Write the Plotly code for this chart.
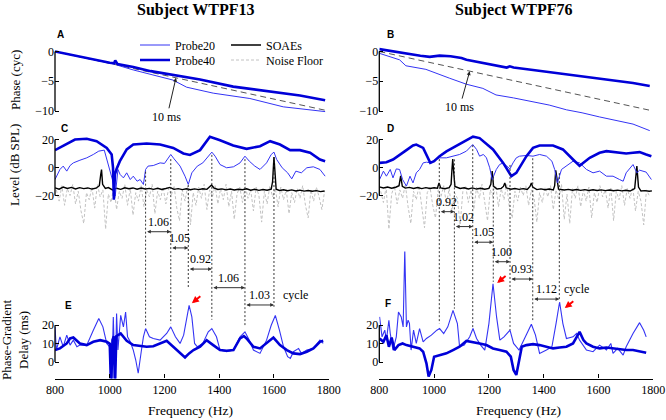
import plotly.graph_objects as go

W, H = 666, 420
SERIF = "Liberation Serif, Times New Roman, Times, serif"
SANS = "Liberation Sans, Arial, sans-serif"
THIN = "#3434f4"
THICK = "#0000d8"
NOISE_C = "#c2c2c2"

FREQ_TICKS = [800, 1000, 1200, 1400, 1600, 1800]
PHASE_TICKS = [0, -5, -10]
LEVEL_TICKS = [20, 0, -20]
DELAY_TICKS = [20, 10, 0]

# 10 ms reference slope (cycles)
REF10_F = [800, 1790]
REF10_PH = [0, -9.9]

# ---------------- Subject WTPF13 ----------------
A_P20 = [(800, 0), (900, -1.0), (1000, -1.9), (1015, -2.1), (1020, -1.5), (1028, -2.3), (1086, -3.1),
         (1147, -3.8), (1231, -4.8), (1281, -6.0), (1378, -7.0), (1512, -7.9), (1634, -9.3), (1787, -10.1)]
A_P40 = [(800, 0), (900, -1.0), (1000, -1.9), (1016, -2.0), (1020, -1.5), (1028, -2.1), (1086, -2.6),
         (1150, -3.3), (1231, -3.9), (1330, -4.7), (1451, -5.9), (1573, -6.6), (1695, -7.4), (1787, -8.2)]

C_P40 = [(800, 12.4), (830, 15.7), (873, 20), (916, 20.5), (952, 18.8), (989, 14), (1007, 9.3), (1012, 0),
         (1015, -23), (1019, -5), (1025, -1), (1037, 4.5), (1062, 12.9), (1086, 16.4), (1135, 17.1),
         (1184, 16.4), (1232, 14), (1269, 10), (1293, 9), (1330, 12.4), (1366, 21.9), (1403, 19.5),
         (1451, 15.7), (1500, 13.3), (1549, 15.2), (1586, 18.8), (1622, 16.4), (1659, 12.4), (1695, 12.4),
         (1732, 10.5), (1768, 5.7), (1787, 4.5)]
C_P20 = [(800, -8.6), (818, -1.4), (830, 1), (843, -2.6), (855, 1.4), (867, 3.3), (891, 5.2), (916, 6.9),
         (940, 9.3), (960, 11.7), (980, 12.4), (989, 5.7), (1000, -1.4), (1013, -11), (1020, -20.5),
         (1030, -1.4), (1038, -5), (1050, -7.4), (1062, -3.8), (1075, -8.6), (1086, -6.2), (1100, -9.8),
         (1111, -8.6), (1123, -12.1), (1131, -1.4), (1140, 1), (1159, 1.4), (1184, 3.3), (1200, 2.9),
         (1215, 6.9), (1223, 9.3), (1235, 6.2), (1257, 1), (1275, -6.2), (1287, -12.1), (1300, -3.8),
         (1320, 1), (1340, 3.3), (1360, 8.1), (1373, 11), (1385, 8.1), (1403, 2.1), (1427, -0.2),
         (1452, 0.5), (1476, 3.3), (1494, 8.1), (1510, 4.5), (1530, 1), (1549, -1.4), (1573, 3.3),
         (1590, 9.3), (1600, 11), (1610, 5.7), (1630, -0.2), (1650, -3.8), (1665, -8.1), (1680, -2.6),
         (1700, -3.8), (1720, -0.2), (1744, 0.5), (1768, -1.4), (1787, -6.2)]
C_SOAE = [(800, -14.5), (815, -15.5), (830, -14), (845, -15), (860, -14.2), (875, -15.3), (890, -14.4),
          (905, -15.1), (920, -14.6), (935, -15.4), (950, -14.8), (962, -13), (967, -5), (970, -1.5),
          (974, -12), (984, -15), (995, -14.3), (1010, -16), (1025, -14.8), (1040, -15.6), (1055, -14.5),
          (1070, -15.2), (1085, -14.6), (1100, -15.5), (1115, -14.7), (1130, -15.3), (1145, -14.9),
          (1160, -15.6), (1175, -14.8), (1190, -15.7), (1205, -15), (1220, -14.2), (1235, -15.6),
          (1250, -15.1), (1265, -15.8), (1280, -15.2), (1295, -15.9), (1310, -15.3), (1325, -15.8),
          (1340, -15.2), (1355, -15.6), (1365, -14), (1372, -12.5), (1380, -14.5), (1395, -15.7),
          (1410, -15.3), (1425, -16), (1440, -15.4), (1455, -16.1), (1470, -15.5), (1485, -15.9),
          (1500, -15.2), (1515, -16.2), (1530, -15.6), (1545, -16.3), (1560, -15.7), (1575, -16.2),
          (1590, -15.5), (1595, -10), (1600, 7.5), (1603, -3), (1608, -15.5), (1620, -16.4), (1635, -15.9),
          (1650, -16.6), (1665, -16), (1680, -16.8), (1695, -16.2), (1710, -16.9), (1725, -16.4),
          (1740, -17), (1755, -16.5), (1770, -17.2), (1785, -16.8)]
NOISE_F = list(range(805, 1790, 10))
C_NOISE = [-16, -24, -13, -27, -15, -20, -12, -26, -17, -31,
           -40, -18, -23, -14, -29, -12, -21, -16, -44, -19,
           -25, -13, -30, -17, -22, -12, -27, -15, -34, -18,
           -24, -13, -28, -16, -21, -12, -33, -17, -23, -14,
           -26, -15, -20, -13, -29, -38, -16, -24, -13, -41,
           -18, -27, -14, -22, -12, -30, -16, -21, -13, -26,
           -15, -23, -12, -28, -17, -37, -19, -14, -25, -13,
           -22, -16, -31, -14, -20, -39, -17, -26, -13, -21,
           -15, -28, -14, -23, -16, -33, -18, -25, -15, -22,
           -13, -27, -36, -16, -24, -14, -21, -30, -17]

E_P40 = [(800, 6.5), (818, 7.4), (843, 10.1), (855, 12.8), (867, 13.3), (891, 10.1), (916, 9.2), (940, 11),
         (965, 11.9), (989, 11), (1000, 10), (1005, -15), (1010, 12), (1015, 14), (1019, -15), (1024, 14),
         (1040, 15.5), (1062, 11.5), (1086, 9.2), (1111, 8.6), (1135, 8.3), (1159, 8.6), (1184, 10.1),
         (1208, 11.5), (1232, 8.3), (1257, 4.7), (1275, 2.5), (1290, 4.7), (1306, 6.5), (1330, 8.3),
         (1354, 11.9), (1378, 9.2), (1403, 6.5), (1427, 6.1), (1452, 6.5), (1476, 12.8), (1490, 14.1),
         (1500, 12.8), (1525, 8.3), (1549, 7.4), (1573, 10.1), (1598, 13.3), (1622, 9.2), (1647, 6.5),
         (1671, 4.7), (1695, 4.3), (1720, 5.6), (1744, 7.4), (1768, 11), (1780, 11.5)]
E_P20 = [(800, 19.1), (805, 6.5), (818, 13.7), (830, 8.3), (843, 14.6), (855, 9.2), (867, 11.9), (880, 8.3),
         (891, 9.2), (916, 9.2), (940, 17.3), (960, 23.6), (975, 19.1), (989, 10.1), (1000, 8.3),
         (1007, -9.7), (1013, 24.5), (1020, -11.5), (1025, 26.3), (1030, 6.5), (1040, 25.4), (1050, 19.1),
         (1058, 27.2), (1065, 13.7), (1075, 11), (1086, 6.5), (1095, 1.1), (1104, -6.1), (1115, 5.6),
         (1123, 13.7), (1131, 18.2), (1145, 13.7), (1159, 12.8), (1184, 11.9), (1208, 15.5), (1223, 19.1),
         (1240, 13.7), (1257, 10.1), (1270, 14.6), (1281, 24.5), (1290, 30.8), (1300, 24.5), (1310, 10.1),
         (1320, 8.3), (1340, 10.1), (1360, 16.4), (1373, 18.2), (1390, 13.7), (1403, 6.5), (1427, 5.6),
         (1452, 6.5), (1476, 13.7), (1494, 16.4), (1510, 11.9), (1525, 6.5), (1549, 4.7), (1573, 11.9),
         (1590, 20), (1605, 25.3), (1620, 17.3), (1635, 8.3), (1650, 2.9), (1660, 2), (1671, 5.6),
         (1690, 7.4), (1700, 4.7), (1720, 6.5), (1744, 7.4), (1768, 11.9), (1780, 10.1)]

L_LINES_F = [1131, 1223, 1287, 1373, 1494, 1600]
L_LINES_TOP_DB = [-3, 6, -12.5, 9, 6, 7.5]
L_LINES_BOT_MS = [20, 21, 40, 23, 20, 30]
L_ARROW_MS = [70.8, 62, 50.5, 40.4, 31]
L_RATIO = ["1.06", "1.05", "0.92", "1.06", "1.03"]
L_RED = [(1300, 32)]
L_10MS_HEAD = (1242, -4.42)

# ---------------- Subject WTPF76 ----------------
B_P20 = [(800, -0.3), (874, -1.4), (897, -2.4), (970, -3.0), (1057, -4.5), (1118, -5.5), (1178, -6.2),
         (1226, -7.3), (1290, -7.8), (1361, -8.4), (1420, -9.0), (1483, -9.8), (1540, -10.3), (1604, -11.0),
         (1660, -11.6), (1726, -12.2), (1787, -13.3)]
B_P40 = [(800, 0.4), (874, -0.2), (950, -0.7), (984, -0.9), (1020, -0.7), (1060, -0.8), (1100, -1.1),
         (1118, -1.4), (1215, -2.3), (1265, -2.7), (1276, -2.5), (1290, -2.7), (1361, -3.1), (1483, -3.8),
         (1604, -4.6), (1726, -5.3), (1787, -5.8)]

D_P40 = [(801, 3.3), (826, 3.8), (850, 5.7), (874, 9.3), (899, 12.4), (923, 15.7), (935, 16.4), (960, 14),
         (975, 8), (986, 3.3), (1000, 4.5), (1020, 8.1), (1045, 11.5), (1069, 14), (1093, 17.1), (1118, 19.5),
         (1142, 22), (1166, 21), (1191, 17.1), (1215, 12.9), (1252, 3.3), (1282, -6.2), (1300, -3.8),
         (1337, 8.1), (1361, 14), (1385, 15.7), (1434, 15.7), (1470, 12.9), (1507, 5.7), (1531, 1.2),
         (1568, 6.9), (1604, 10.5), (1629, 11.7), (1653, 11), (1677, 10.5), (1701, 10), (1726, 10.5),
         (1750, 11), (1774, 9.3), (1793, 8.1)]
D_P20 = [(801, -8.6), (815, -2.6), (826, -6.2), (840, -1.4), (850, -7.4), (862, -1), (874, -1.4), (885, -8.6),
         (899, -13.3), (912, -6.2), (923, -11), (935, -3.8), (947, -1.4), (960, 3.3), (972, 3.8), (990, 3.3),
         (1000, 5.2), (1020, 6.9), (1045, 6.9), (1069, 8.1), (1093, 9.3), (1118, 11.7), (1130, 14),
         (1141, 16.4), (1155, 12.9), (1166, 8.1), (1180, 9.3), (1191, 6.9), (1203, -0.2), (1212, -8.6),
         (1227, -1.4), (1239, 2.1), (1252, 3.3), (1264, 1), (1277, -1), (1288, 3.3), (1300, 6.9),
         (1312, 8.1), (1337, 8.6), (1361, 8.1), (1385, 9.3), (1410, 8.1), (1430, 4.5), (1440, -1.4),
         (1450, -11), (1465, -1.4), (1483, 1), (1507, 4.5), (1531, 3.3), (1556, -1.4), (1580, -3.8),
         (1604, -2.6), (1629, -6.2), (1653, -6.2), (1677, -8.6), (1690, -9.8), (1701, -3.8), (1715, -0.2),
         (1726, 2.1), (1740, -3.8), (1750, -1.9), (1774, -3.3), (1793, -8.6)]
D_SOAE = [(800, -13.8), (815, -14.6), (830, -13.9), (845, -14.8), (860, -14.1), (872, -13), (878, -6),
          (884, -13.5), (895, -14.7), (910, -14.2), (925, -15), (940, -14.3), (955, -15.1), (970, -14.4),
          (985, -15), (1000, -14.5), (1012, -14.8), (1018, -11), (1024, -14.6), (1040, -15.2), (1055, -14.4),
          (1062, -12), (1065, -2), (1068, 6), (1071, -2), (1076, -13.5), (1095, -15), (1110, -14.5),
          (1125, -15.3), (1140, -14.6), (1155, -15.4), (1170, -14.8), (1185, -15.5), (1200, -14.9),
          (1207, -12), (1212, -2.5), (1217, -13.5), (1230, -15.4), (1245, -14.9), (1253, -13.5),
          (1258, -11), (1263, -14.5), (1280, -15.5), (1295, -15), (1310, -15.6), (1325, -15.1),
          (1340, -15.7), (1350, -13.5), (1355, -11), (1360, -14), (1375, -15.8), (1390, -15.3),
          (1405, -15.9), (1420, -15.4), (1435, -16), (1440, -13), (1444, -2), (1448, -8), (1454, -15.5),
          (1475, -16.1), (1490, -15.6), (1505, -16.2), (1520, -15.7), (1535, -16.3), (1550, -15.8),
          (1565, -16.4), (1580, -15.9), (1595, -16.4), (1610, -16), (1625, -16.5), (1640, -16.1),
          (1655, -16.6), (1670, -16.2), (1685, -16.7), (1700, -16.3), (1715, -16.8), (1732, -15),
          (1740, 1), (1746, -14), (1755, -16.8), (1770, -16.5), (1785, -17), (1795, -16.7)]
D_NOISE = [-17, -25, -14, -44, -19, -13, -26, -16, -22, -12,
           -28, -40, -17, -23, -13, -29, -43, -18, -14, -27,
           -36, -16, -21, -13, -26, -15, -31, -18, -22, -41,
           -17, -13, -25, -16, -30, -14, -22, -12, -27, -38,
           -16, -21, -13, -28, -15, -23, -12, -29, -36, -17,
           -24, -14, -20, -13, -27, -16, -22, -39, -18, -25,
           -14, -21, -13, -30, -16, -23, -12, -37, -19, -40,
           -15, -22, -13, -28, -16, -24, -14, -36, -18, -25,
           -13, -21, -16, -29, -14, -38, -17, -23, -13, -27,
           -15, -22, -14, -31, -17, -24, -41, -16, -20]

F_P40 = [(801, 12.8), (815, 11), (826, 14.6), (835, 8.3), (845, 13.3), (855, 6.5), (870, 9.2), (885, 10.1),
         (899, 9.2), (923, 8.3), (947, 7.4), (960, 5.6), (972, -0.7), (980, -7.9), (990, -4.3), (1000, 2.9),
         (1020, 3.8), (1045, 4.7), (1069, 6.5), (1093, 8.3), (1118, 11.5), (1142, 11), (1166, 10.1),
         (1191, 9.2), (1215, 7.4), (1239, 6.5), (1264, 5.6), (1280, 2.9), (1290, -4.3), (1300, -7),
         (1312, 1.1), (1320, 8.3), (1337, 9.2), (1361, 9.7), (1385, 9.2), (1410, 8.3), (1434, 7.4),
         (1458, 7.9), (1483, 8.3), (1507, 10.1), (1531, 16.4), (1545, 11.9), (1556, 10.1), (1580, 8.3),
         (1604, 7.4), (1629, 7.9), (1653, 7.4), (1677, 6.8), (1701, 6.5), (1726, 6.5), (1750, 5.6),
         (1774, 5)]
F_P20 = [(801, 24.5), (810, 13.7), (820, 17.3), (826, 11.9), (835, 22.7), (840, 15.5), (850, 6.5),
         (862, 13.7), (870, 27.2), (880, 24.5), (887, 19.1), (893, 61), (899, 19.1), (905, 22.7),
         (910, 21), (916, 6.5), (925, 17.3), (935, 10.1), (947, 18.2), (960, 11), (972, 12.8),
         (990, 14.6), (1010, 17.3), (1020, 18.2), (1035, 15.5), (1050, 19.1), (1069, 28.1), (1085, 20.9),
         (1093, 8.3), (1110, 9.2), (1130, 13.7), (1142, 18.2), (1155, 12.8), (1170, 9.2), (1185, 6.5),
         (1200, 20.9), (1215, 42.5), (1228, 24.5), (1240, 11.9), (1255, 13.7), (1277, 17.3), (1290, 10.1),
         (1310, 6.5), (1337, 14.6), (1355, 20.5), (1370, 14.6), (1385, 4.7), (1410, 6.5), (1430, 8.3),
         (1445, 20.9), (1458, 32.6), (1470, 20.9), (1483, 12.8), (1507, 13.7), (1520, 15.5), (1531, 11.9),
         (1556, 6.5), (1580, 5.6), (1604, 9.2), (1629, 6.5), (1645, 10.1), (1653, 4.7), (1670, 7.4),
         (1690, 3.8), (1701, 8.3), (1726, 15.5), (1750, 21.4), (1765, 17.3), (1774, 13.7)]

R_LINES_F = [1019, 1074, 1141, 1216, 1277, 1360, 1457]
R_LINES_TOP_DB = [6, 5.8, 16, -6.5, 1.8, 6.6, -4]
R_LINES_BOT_MS = [21, 29, 18.3, 43.6, 17.4, 22.8, 33.7]
R_ARROW_MS = [81.7, 73.6, 65.1, 54.5, 45.1, 34.2]
R_RATIO = ["0.92", "1.02", "1.05", "1.00", "0.93", "1.12"]
R_RED = [(1230, 43), (1477, 29.3)]
R_10MS_HEAD = (1130, -3.3)

# ---------------- layout geometry ----------------
XL = [55 / W, 328.7 / W]
XR = [379.3 / W, 653.3 / W]
RNG_A = [-14, 1]
DOM_A = [1 - 134.8 / H, 1 - 45.55 / H]
RNG_C = [-48, 25]
DOM_C = [1 - 234.7 / H, 1 - 132.5 / H]
RNG_E = [-9, 60]
DOM_E = [1 - 378.6 / H, 1 - 251.6 / H]


def yp(v, dom, rng):
    return dom[0] + (v - rng[0]) / (rng[1] - rng[0]) * (dom[1] - dom[0])


def unzip(pairs):
    return [p[0] for p in pairs], [p[1] for p in pairs]


fig = go.Figure()


def add(xs, ys, xa, ya, color, width, name, dash=None, legend=None, rank=1000, lw=None):
    fig.add_trace(go.Scatter(
        x=xs, y=ys, xaxis=xa, yaxis=ya, mode="lines", name=name,
        line=dict(color=color, width=width, dash=dash),
        showlegend=legend is not None, legend=legend or "legend", legendrank=rank,
        legendwidth=lw, hoverinfo="skip"))


cols = [
    dict(xa="x", ye="y", ya="y2", yc="y3", A=(A_P20, A_P40), C=(C_NOISE, C_SOAE, C_P20, C_P40),
         E=(E_P20, E_P40), lines=(L_LINES_F, L_LINES_TOP_DB, L_LINES_BOT_MS), arrows=L_ARROW_MS,
         ratios=L_RATIO, red=L_RED, head=L_10MS_HEAD, lead=True, cyc_shift=7, tenms=(-9, 39)),
    dict(xa="x2", ye="y4", ya="y5", yc="y6", A=(B_P20, B_P40), C=(D_NOISE, D_SOAE, D_P20, D_P40),
         E=(F_P20, F_P40), lines=(R_LINES_F, R_LINES_TOP_DB, R_LINES_BOT_MS), arrows=R_ARROW_MS,
         ratios=R_RATIO, red=R_RED, head=R_10MS_HEAD, lead=False, cyc_shift=3, tenms=(-10, 36)),
]

shapes = []
annotations = []
TXT = dict(family=SERIF, size=12, color="black")

for c in cols:
    xa, ye, ya, yc = c["xa"], c["ye"], c["ya"], c["yc"]
    lg = c["lead"]
    # phase panel
    add(REF10_F, REF10_PH, xa, ya, "#555555", 1, "10 ms", dash="6px,4px")
    xs, ys = unzip(c["A"][0]); add(xs, ys, xa, ya, THIN, 1, "Probe20")
    xs, ys = unzip(c["A"][1]); add(xs, ys, xa, ya, THICK, 2.6, "Probe40")
    # level panel
    noise, soae, p20, p40 = c["C"]
    add(NOISE_F, noise, xa, yc, NOISE_C, 1, "Noise Floor", dash="3px,2px",
        legend="legend2" if lg else None, rank=2, lw=80)
    xs, ys = unzip(soae); add(xs, ys, xa, yc, "black", 1.4, "SOAEs",
                              legend="legend" if lg else None, rank=2, lw=80)
    xs, ys = unzip(p20); add(xs, ys, xa, yc, THIN, 1, "Probe20",
                             legend="legend" if lg else None, rank=1, lw=46)
    xs, ys = unzip(p40); add(xs, ys, xa, yc, THICK, 2.6, "Probe40",
                             legend="legend2" if lg else None, rank=1, lw=46)
    # delay panel
    xs, ys = unzip(c["E"][0]); add(xs, ys, xa, ye, THIN, 1.1, "Probe20")
    xs, ys = unzip(c["E"][1]); add(xs, ys, xa, ye, THICK, 2.6, "Probe40")

    # y spines
    for yref, lo, hi in [(ya, -10, 0), (yc, -20, 20), (ye, 0, 20)]:
        shapes.append(dict(type="line", xref=xa + " domain", x0=0, x1=0, yref=yref, y0=lo, y1=hi,
                           line=dict(color="black", width=1.3)))
    # connector dashed lines
    lf, ltop, lbot = c["lines"]
    for f, t, b in zip(lf, ltop, lbot):
        shapes.append(dict(type="line", xref=xa, x0=f, x1=f, yref="paper",
                           y0=yp(t, DOM_C, RNG_C), y1=yp(b, DOM_E, RNG_E),
                           line=dict(color="#222222", width=0.9, dash="2px,2px")))
    # double arrows + ratio labels
    for i, (ms, txt) in enumerate(zip(c["arrows"], c["ratios"])):
        ypos = yp(ms, DOM_E, RNG_E)
        annotations.append(dict(xref=xa, axref=xa, x=lf[i + 1], ax=lf[i], yref="paper", y=ypos,
                                ayref="pixel", ay=0, text="", showarrow=True, arrowside="end+start",
                                arrowhead=2, startarrowhead=2, arrowsize=0.75, startarrowsize=0.75,
                                arrowwidth=1, arrowcolor="#333333", standoff=0, startstandoff=0))
        annotations.append(dict(xref=xa, x=(lf[i] + lf[i + 1]) / 2, yref="paper", y=ypos,
                                xanchor="center", yanchor="bottom", yshift=1, text=txt,
                                showarrow=False, font=TXT))
    annotations.append(dict(xref=xa, x=lf[-1], xanchor="left", xshift=c["cyc_shift"], yref="paper",
                            y=yp(c["arrows"][-1], DOM_E, RNG_E), yanchor="bottom", yshift=1, text="cycle",
                            showarrow=False, font=TXT))
    # red arrows
    for f, ms in c["red"]:
        annotations.append(dict(xref=xa, yref=ye, x=f, y=ms, ax=10, ay=-8, text="", showarrow=True,
                                arrowhead=2, arrowsize=0.7, arrowwidth=2, arrowcolor="#ff0000", standoff=0))
    # 10 ms label
    hf, hp = c["head"]
    annotations.append(dict(xref=xa, yref=ya, x=hf, y=hp, ax=c["tenms"][0], ay=c["tenms"][1], text="10 ms",
                            showarrow=True, arrowhead=2, arrowsize=0.8, arrowwidth=1, arrowcolor="#222222",
                            font=TXT))


def label(txt, px, py, font, angle=0):
    annotations.append(dict(xref="paper", yref="paper", x=px / W, y=1 - py / H, text=txt, showarrow=False,
                            xanchor="center", yanchor="middle", textangle=angle, font=font))


for txt, px in [("<b>Subject WTPF13</b>", 196), ("<b>Subject WTPF76</b>", 513)]:
    label(txt, px, 10, dict(family=SERIF, size=16, color="black"))
for txt, px, py in [("A", 60, 34), ("B", 390, 34), ("C", 64, 128), ("D", 390, 128), ("E", 68, 305),
                    ("F", 388, 303)]:
    label("<b>%s</b>" % txt, px, py, dict(family=SANS, size=10, color="black"))
for txt, py in [("Phase (cyc)", 80), ("Level (dB SPL)", 165), ("Phase-Gradient<br>Delay (ms)", 340)]:
    label(txt, 15, py, dict(family=SERIF, size=13, color="black"), angle=-90)
for px in (191, 518):
    label("Frequency (Hz)", px, 410, dict(family=SERIF, size=13.5, color="black"))

tickfont = dict(family=SERIF, size=12, color="black")


def xax(dom, anchor):
    return dict(domain=dom, range=[800, 1800], anchor=anchor, showline=True, linecolor="black",
                linewidth=1.3, ticks="inside", ticklen=4, tickwidth=1.2, tickcolor="black",
                tickvals=FREQ_TICKS, showgrid=False, zeroline=False, tickfont=tickfont, fixedrange=True,
                automargin=False)


def yax(dom, rng, tv, anchor):
    return dict(domain=dom, range=rng, anchor=anchor, showline=False, showgrid=False, zeroline=False,
                ticks="inside", ticklen=4, tickwidth=1.2, tickcolor="black", tickvals=tv,
                tickfont=tickfont, fixedrange=True, automargin=False)


leg = dict(orientation="h", xanchor="left", yanchor="middle", x=135 / W, itemwidth=30,
           bgcolor="rgba(0,0,0,0)", font=dict(family=SERIF, size=12, color="black"))

fig.update_layout(
    width=W, height=H, margin=dict(l=0, r=0, t=0, b=0, autoexpand=False),
    paper_bgcolor="white", plot_bgcolor="rgba(0,0,0,0)",
    xaxis=xax(XL, "y"), xaxis2=xax(XR, "y4"),
    yaxis=yax(DOM_E, RNG_E, DELAY_TICKS, "x"),
    yaxis2=yax(DOM_A, RNG_A, PHASE_TICKS, "x"),
    yaxis3=yax(DOM_C, RNG_C, LEVEL_TICKS, "x"),
    yaxis4=yax(DOM_E, RNG_E, DELAY_TICKS, "x2"),
    yaxis5=yax(DOM_A, RNG_A, PHASE_TICKS, "x2"),
    yaxis6=yax(DOM_C, RNG_C, LEVEL_TICKS, "x2"),
    legend=dict(leg, y=1 - 45 / H),
    legend2=dict(leg, y=1 - 60 / H),
    shapes=shapes, annotations=annotations,
)

fig.write_html("out.html", config={"displayModeBar": False},
               post_script="document.body.style.margin='0px';")
